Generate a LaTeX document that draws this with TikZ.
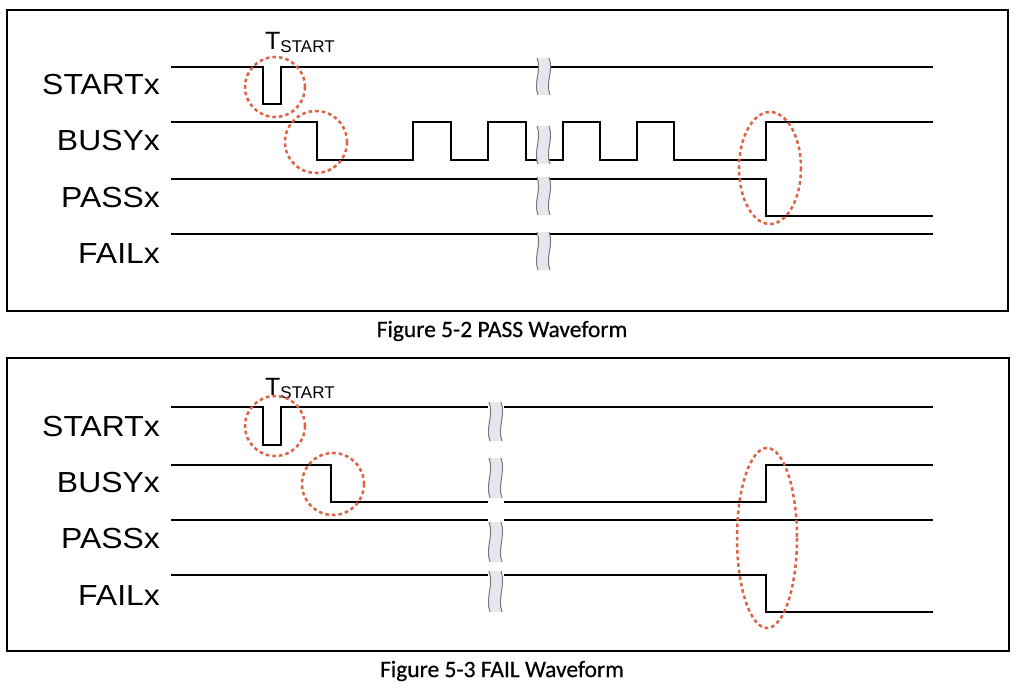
\documentclass[tikz,border=0pt]{standalone}
\usepackage{fontspec}
\setmainfont{Liberation Sans}
\newfontfamily\labfont[FakeStretch=1.1]{Liberation Sans}
\newfontfamily\capfont[FakeBold=0.5]{Carlito}
\definecolor{hl}{RGB}{222,98,68}
\definecolor{brkfill}{RGB}{228,232,238}
\definecolor{brkedge}{RGB}{120,120,120}
\tikzset{
  sig/.style={line width=2.2pt, line join=miter},
  frame/.style={line width=1.3pt},
  ring/.style={draw=hl, line width=2.5pt, dash pattern=on 3.6pt off 3pt},
  siglabel/.style={anchor=base east, inner sep=0pt, font=\labfont\fontsize{29}{29}\selectfont},
  figcap/.style={anchor=center, inner sep=0pt, font=\capfont\fontsize{23.5}{23.5}\selectfont},
  tlab/.style={anchor=base west, inner sep=0pt}
}
\newcommand{\brkmark}[3]{% x-left, y-top, y-bottom
  \pgfmathsetmacro{\hh}{#3-#2}
  \fill[brkfill] (#1,#2) .. controls ({#1+5},{#2+0.35*\hh}) and ({#1-4},{#2+0.65*\hh}) .. ({#1+1},#3)
     -- ({#1+13},#3) .. controls ({#1+8},{#2+0.65*\hh}) and ({#1+17},{#2+0.35*\hh}) .. ({#1+12},#2) -- cycle;
  \draw[brkedge, line width=1pt] (#1,#2) .. controls ({#1+5},{#2+0.35*\hh}) and ({#1-4},{#2+0.65*\hh}) .. ({#1+1},#3);
  \draw[brkedge, line width=1pt] ({#1+12},#2) .. controls ({#1+17},{#2+0.35*\hh}) and ({#1+8},{#2+0.65*\hh}) .. ({#1+13},#3);
}
\begin{document}
\begin{tikzpicture}[x=1pt,y=-1pt]
\useasboundingbox (0,0) rectangle (1025,690);
\fill[white] (0,0) rectangle (1025,690);

% ---------- top panel ----------
\draw[frame] (7,10) rectangle (1008,311);
\node[siglabel] (ls1) at (160,95) {STARTx};
\node[siglabel] (lb1) at (160,150) {BUSYx};
\node[siglabel] (lp1) at (160,207) {PASSx};
\node[siglabel] (lf1) at (160,263) {FAILx};
\node[tlab] (t1) at (265,50) {\fontsize{25}{25}\selectfont T\raisebox{-3pt}{\fontsize{17}{17}\selectfont START}};

\draw[sig] (171,67) -- (263,67) -- (263,104) -- (281,104) -- (281,67) -- (933,67);
\draw[sig] (171,122) -- (317,122) -- (317,160) -- (413,160) -- (413,122) -- (451,122) -- (451,160)
  -- (488,160) -- (488,122) -- (526,122) -- (526,160) -- (563,160) -- (563,122) -- (600,122)
  -- (600,160) -- (637,160) -- (637,122) -- (674,122) -- (674,160) -- (766,160) -- (766,122) -- (933,122);
\draw[sig] (171,179) -- (766,179) -- (766,216) -- (933,216);
\draw[sig] (171,234) -- (933,234);

\brkmark{537}{58}{95}
\brkmark{537}{126}{164}
\brkmark{537}{177}{215}
\brkmark{537}{232}{270}

\draw[ring] (275,87) circle[radius=30];
\draw[ring] (316,142) circle[radius=31];
\draw[ring] (770,168) ellipse[x radius=31, y radius=56];

\node[figcap] (c1) at (502,331) {Figure 5-2 PASS Waveform};

% ---------- bottom panel ----------
\draw[frame] (7,358) rectangle (1009,651);
\node[siglabel] (ls2) at (160,436) {STARTx};
\node[siglabel] (lb2) at (160,492) {BUSYx};
\node[siglabel] (lp2) at (160,548) {PASSx};
\node[siglabel] (lf2) at (160,605) {FAILx};
\node[tlab] (t2) at (265,395) {\fontsize{25}{25}\selectfont T\raisebox{-3pt}{\fontsize{17}{17}\selectfont START}};

\draw[sig] (171,407) -- (263,407) -- (263,445) -- (281,445) -- (281,407) -- (933,407);
\draw[sig] (171,465) -- (331,465) -- (331,502) -- (766,502) -- (766,465) -- (933,465);
\draw[sig] (171,520) -- (933,520);
\draw[sig] (171,575) -- (766,575) -- (766,612) -- (933,612);

\fill[white] (488,400) rectangle (504,614);
\brkmark{489}{402}{441}
\brkmark{489}{458}{498}
\brkmark{489}{522}{562}
\brkmark{489}{571}{612}

\draw[ring] (275,426) circle[radius=30];
\draw[ring] (333,484) circle[radius=31];
\draw[ring] (767,538) ellipse[x radius=30, y radius=90];

\node[figcap] (c2) at (502,671) {Figure 5-3 FAIL Waveform};
\end{tikzpicture}
\end{document}
